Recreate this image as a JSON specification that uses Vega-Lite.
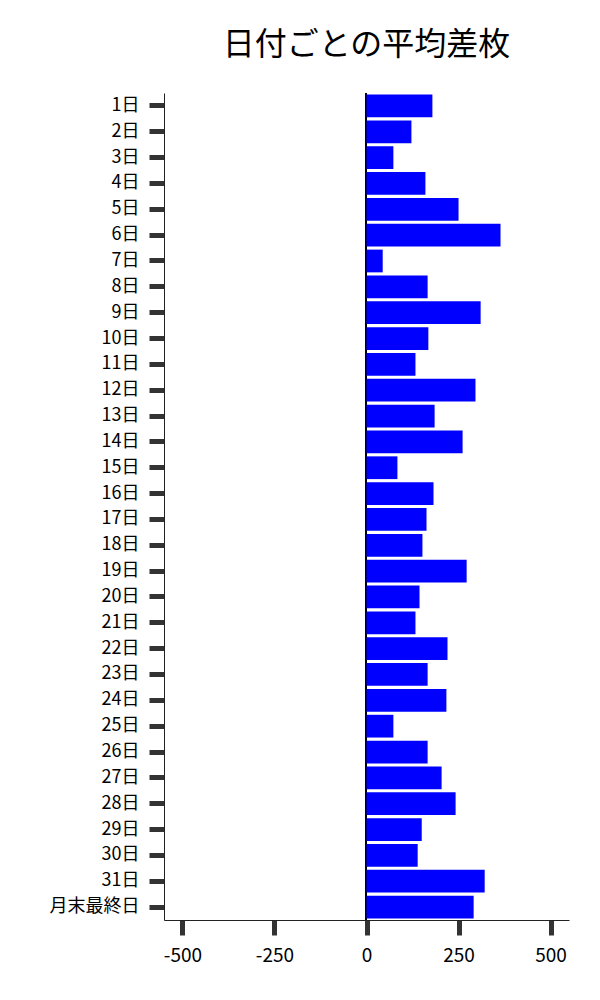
{
  "$schema": "https://vega.github.io/schema/vega-lite/v6.json",
  "width": 405,
  "height": 827,
  "autosize": {"type": "none"},
  "padding": {"left": 164, "top": 93, "right": 31, "bottom": 80},
  "background": "white",
  "title": {
    "text": "日付ごとの平均差枚",
    "font": "Noto Sans CJK JP",
    "fontSize": 32,
    "fontWeight": "normal",
    "color": "black",
    "anchor": "middle",
    "frame": "group",
    "offset": 30
  },
  "config": {
    "view": {"stroke": null},
    "font": "Noto Sans CJK JP"
  },
  "data": {
    "values": [
      {"day": "1日", "value": 179},
      {"day": "2日", "value": 122},
      {"day": "3日", "value": 73},
      {"day": "4日", "value": 160},
      {"day": "5日", "value": 250},
      {"day": "6日", "value": 364},
      {"day": "7日", "value": 44},
      {"day": "8日", "value": 166},
      {"day": "9日", "value": 310},
      {"day": "10日", "value": 168},
      {"day": "11日", "value": 133},
      {"day": "12日", "value": 296},
      {"day": "13日", "value": 185},
      {"day": "14日", "value": 261},
      {"day": "15日", "value": 84},
      {"day": "16日", "value": 182},
      {"day": "17日", "value": 163},
      {"day": "18日", "value": 152},
      {"day": "19日", "value": 272},
      {"day": "20日", "value": 144},
      {"day": "21日", "value": 133},
      {"day": "22日", "value": 220},
      {"day": "23日", "value": 166},
      {"day": "24日", "value": 217},
      {"day": "25日", "value": 73},
      {"day": "26日", "value": 166},
      {"day": "27日", "value": 204},
      {"day": "28日", "value": 242},
      {"day": "29日", "value": 150},
      {"day": "30日", "value": 139},
      {"day": "31日", "value": 321},
      {"day": "月末最終日", "value": 291}
    ]
  },
  "layer": [
    {
      "mark": {"type": "rule", "color": "black", "strokeWidth": 1.5, "xOffset": -0.5, "opacity": 0.85},
      "encoding": {
        "x": {"datum": 0, "type": "quantitative"}
      }
    },
    {
      "mark": {"type": "bar", "color": "#0000FF"},
      "encoding": {
        "y": {
          "field": "day",
          "type": "nominal",
          "sort": null,
          "title": null,
          "scale": {"paddingInner": 0.12, "paddingOuter": 0.06},
          "axis": {
            "domainColor": "#222",
            "domainWidth": 1,
            "tickColor": "#333",
            "tickWidth": 5,
            "tickSize": 15,
            "labelPadding": 10,
            "labelFontSize": 18,
            "labelColor": "black",
            "labelFont": "Noto Sans CJK JP",
            "grid": false
          }
        },
        "x": {
          "field": "value",
          "type": "quantitative",
          "title": null,
          "scale": {"domain": [-550, 550], "nice": false, "zero": false},
          "axis": {
            "values": [-500, -250, 0, 250, 500],
            "labelExpr": "replace(datum.label, '−', '-')",
            "domainColor": "#222",
            "domainWidth": 1,
            "tickColor": "#333",
            "tickWidth": 5,
            "tickSize": 15,
            "labelPadding": 11,
            "labelFontSize": 19,
            "labelColor": "black",
            "labelFont": "Noto Sans CJK JP",
            "grid": false
          }
        }
      }
    }
  ]
}
